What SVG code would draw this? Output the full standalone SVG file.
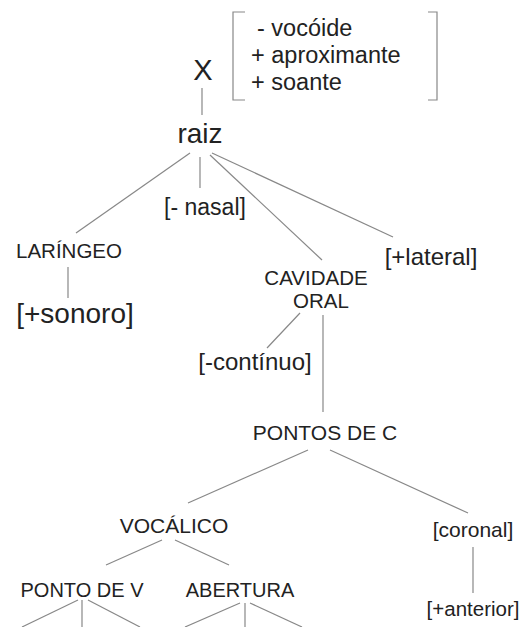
<svg xmlns="http://www.w3.org/2000/svg" width="524" height="627" viewBox="0 0 524 627">
<style>
text{font-family:"Liberation Sans",Arial,sans-serif;fill:#222}
.m{text-anchor:middle}
#connectors line,#bracket path{stroke:#888;stroke-width:1.2;fill:none}
</style>
<rect width="524" height="627" fill="#fff"/>
<g id="bracket">
<path d="M245,12 H233 V100 H245"/>
<path d="M428,12 H437 V100 H428"/>
<text x="257" y="36" font-size="23.5">- vocóide</text>
<text x="251" y="63" font-size="23.5">+ aproximante</text>
<text x="251" y="90" font-size="23.5">+ soante</text>
</g>
<g id="connectors">
<line x1="202" y1="88" x2="202" y2="115"/>
<line x1="190" y1="153" x2="76" y2="233"/>
<line x1="200" y1="157" x2="200" y2="188"/>
<line x1="210" y1="155" x2="322" y2="260"/>
<line x1="212" y1="153" x2="393" y2="237"/>
<line x1="68" y1="267" x2="68" y2="298"/>
<line x1="300" y1="313" x2="267" y2="348"/>
<line x1="323" y1="315" x2="323" y2="412"/>
<line x1="308" y1="450" x2="188" y2="503"/>
<line x1="330" y1="450" x2="468" y2="513"/>
<line x1="162" y1="540" x2="106" y2="565"/>
<line x1="175" y1="540" x2="229" y2="565"/>
<line x1="473" y1="547" x2="473" y2="593"/>
<line x1="78" y1="600" x2="22" y2="627"/>
<line x1="82" y1="600" x2="82" y2="627"/>
<line x1="88" y1="600" x2="140" y2="627"/>
<line x1="240" y1="603" x2="185" y2="627"/>
<line x1="245" y1="603" x2="245" y2="627"/>
<line x1="250" y1="603" x2="302" y2="627"/>
</g>
<g id="X"><text class="m" x="203" y="80" font-size="29">X</text></g>
<g id="raiz"><text class="m" x="200" y="143" font-size="28">raiz</text></g>
<g id="nasal"><text class="m" x="205" y="215" font-size="23">[- nasal]</text></g>
<g id="laringeo"><text class="m" x="69" y="258" font-size="20.5">LARÍNGEO</text></g>
<g id="sonoro"><text class="m" x="75" y="323" font-size="28">[+sonoro]</text></g>
<g id="lateral"><text class="m" x="431" y="265" font-size="24">[+lateral]</text></g>
<g id="cavidade"><text class="m" x="316" y="285" font-size="20.5">CAVIDADE</text><text class="m" x="321" y="308" font-size="20.5">ORAL</text></g>
<g id="continuo"><text class="m" x="255" y="370" font-size="24">[-contínuo]</text></g>
<g id="pontosC"><text class="m" x="325" y="440" font-size="21">PONTOS DE C</text></g>
<g id="vocalico"><text class="m" x="174" y="533" font-size="21">VOCÁLICO</text></g>
<g id="coronal"><text class="m" x="473" y="537" font-size="21">[coronal]</text></g>
<g id="anterior"><text class="m" x="473" y="616" font-size="20.5">[+anterior]</text></g>
<g id="pontoV"><text class="m" x="82" y="597" font-size="20">PONTO DE V</text></g>
<g id="abertura"><text class="m" x="240" y="597" font-size="20">ABERTURA</text></g>
</svg>
